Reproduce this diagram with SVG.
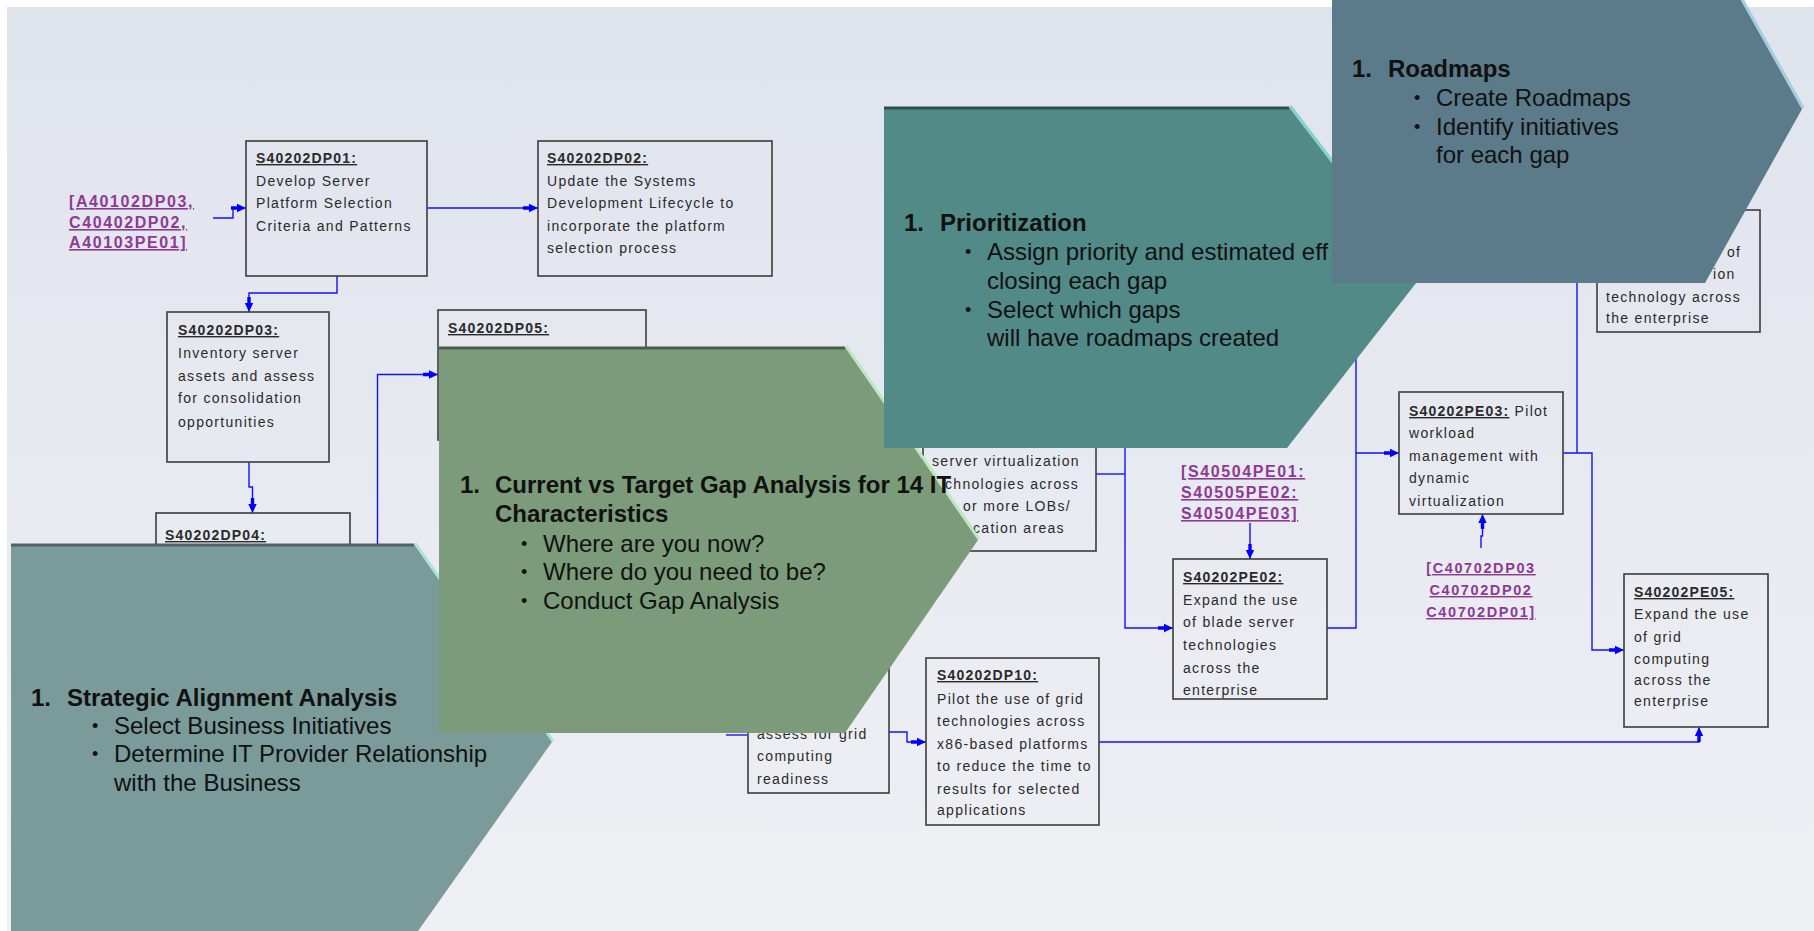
<svg xmlns="http://www.w3.org/2000/svg" width="1814" height="931" viewBox="0 0 1814 931">
<defs>
<linearGradient id="bg" x1="0" y1="0" x2="0" y2="1">
<stop offset="0" stop-color="#dfe3ec"/>
<stop offset="1" stop-color="#eff0f4"/>
</linearGradient>
<marker id="ah" markerUnits="userSpaceOnUse" markerWidth="16" markerHeight="10" refX="15" refY="5" orient="auto">
<path d="M0,3.3 H6 V0.8 L15,5 L6,9.2 V6.7 H0 z" fill="#0000ff"/>
</marker>
<style>
.bx{fill:none;stroke:#3c3c3c;stroke-width:1.6}
.t{font-family:"Liberation Sans",Arial,sans-serif;font-size:14px;letter-spacing:1.3px;fill:#2a2a2a}
.h{font-weight:bold;text-decoration:underline;letter-spacing:1.2px}
.lk{font-family:"Liberation Sans",Arial,sans-serif;font-size:16px;font-weight:bold;letter-spacing:1.6px;fill:#8e3a93;text-decoration:underline}
.lks{font-size:14.5px}
.big{font-family:"Liberation Sans",Arial,sans-serif;font-size:24px;fill:#111}
.bd{font-weight:bold}
.bul{font-family:"Liberation Sans",Arial,sans-serif;font-size:18px;fill:#111}
.cn{fill:none;stroke:#1212ff;stroke-width:1.4}
.cna{fill:none;stroke:#1212ff;stroke-width:1.4;marker-end:url(#ah)}
</style>
</defs>

<rect x="0" y="0" width="1814" height="931" fill="#ffffff"/>
<rect x="7" y="7" width="1807" height="924" fill="url(#bg)"/>

<g id="connectors">
<path class="cna" d="M213,218 H233 V208 H246"/>
<path class="cna" d="M427,208 H538"/>
<path class="cna" d="M337,276 V293 H249 V312"/>
<path class="cna" d="M249,462 V487 H252.5 V513"/>
<path class="cna" d="M377.5,570 V374.5 H438"/>
<path class="cn" d="M530,757 H538 V749"/>
<path class="cn" d="M726,735 H747"/>
<path class="cna" d="M889,732 H907 V742 H926"/>
<path class="cna" d="M1099,742 H1699 V727"/>
<path class="cn" d="M1096,474 H1125"/>
<path class="cna" d="M1125,420 V628 H1173"/>
<path class="cna" d="M1250,523 V559"/>
<path class="cna" d="M1327,628 H1356 V453 H1399"/>
<path class="cn" d="M1356,453 V340"/>
<path class="cna" d="M1481,548 V536 H1482.5 V514"/>
<path class="cna" d="M1563,453 H1592 V650 H1624"/>
<path class="cn" d="M1577,453 V260"/>
</g>

<g id="labelA">
<text class="lk" x="69" y="207">[A40102DP03,</text>
<text class="lk" x="69" y="228">C40402DP02,</text>
<text class="lk" x="69" y="248">A40103PE01]</text>
</g>

<g id="DP01">
<rect class="bx" x="246" y="141" width="181" height="135"/>
<text class="t h" x="256" y="163">S40202DP01:</text>
<text class="t" x="256" y="186">Develop Server</text>
<text class="t" x="256" y="208">Platform Selection</text>
<text class="t" x="256" y="231">Criteria and Patterns</text>
</g>

<g id="DP02">
<rect class="bx" x="538" y="141" width="234" height="135"/>
<text class="t h" x="547" y="163">S40202DP02:</text>
<text class="t" x="547" y="186">Update the Systems</text>
<text class="t" x="547" y="208">Development Lifecycle to</text>
<text class="t" x="547" y="231">incorporate the platform</text>
<text class="t" x="547" y="253">selection process</text>
</g>

<g id="DP03">
<rect class="bx" x="167" y="312" width="162" height="150"/>
<text class="t h" x="178" y="335">S40202DP03:</text>
<text class="t" x="178" y="358">Inventory server</text>
<text class="t" x="178" y="381">assets and assess</text>
<text class="t" x="178" y="403">for consolidation</text>
<text class="t" x="178" y="427">opportunities</text>
</g>

<g id="DP04">
<rect class="bx" x="156" y="513" width="194" height="120"/>
<text class="t h" x="165" y="540">S40202DP04:</text>
</g>

<g id="DP05">
<rect class="bx" x="438" y="310" width="208" height="130"/>
<text class="t h" x="448" y="333">S40202DP05:</text>
</g>

<g id="DP06">
<rect class="bx" x="923" y="400" width="173" height="151"/>
<text class="t" x="932" y="466">server virtualization</text>
<text class="t" x="945" y="489">chnologies across</text>
<text class="t" x="963" y="511">or more LOBs/</text>
<text class="t" x="973" y="533">cation areas</text>
</g>

<g id="DP09">
<rect class="bx" x="748" y="650" width="141" height="143"/>
<text class="t" x="757" y="739">assess for grid</text>
<text class="t" x="757" y="761">computing</text>
<text class="t" x="757" y="784">readiness</text>
</g>

<g id="DP10">
<rect class="bx" x="926" y="658" width="173" height="167"/>
<text class="t h" x="937" y="680">S40202DP10:</text>
<text class="t" x="937" y="704">Pilot the use of grid</text>
<text class="t" x="937" y="726">technologies across</text>
<text class="t" x="937" y="749">x86-based platforms</text>
<text class="t" x="937" y="771">to reduce the time to</text>
<text class="t" x="937" y="794">results for selected</text>
<text class="t" x="937" y="815">applications</text>
</g>

<g id="labelS">
<text class="lk" x="1181" y="477">[S40504PE01:</text>
<text class="lk" x="1181" y="498">S40505PE02:</text>
<text class="lk" x="1181" y="519">S40504PE03]</text>
</g>

<g id="PE02">
<rect class="bx" x="1173" y="559" width="154" height="140"/>
<text class="t h" x="1183" y="582">S40202PE02:</text>
<text class="t" x="1183" y="605">Expand the use</text>
<text class="t" x="1183" y="627">of blade server</text>
<text class="t" x="1183" y="650">technologies</text>
<text class="t" x="1183" y="673">across the</text>
<text class="t" x="1183" y="695">enterprise</text>
</g>

<g id="PE03">
<rect class="bx" x="1399" y="392" width="164" height="122"/>
<text class="t" x="1409" y="416"><tspan class="h">S40202PE03:</tspan> Pilot</text>
<text class="t" x="1409" y="438">workload</text>
<text class="t" x="1409" y="461">management with</text>
<text class="t" x="1409" y="483">dynamic</text>
<text class="t" x="1409" y="506">virtualization</text>
</g>

<g id="labelC">
<text class="lk lks" x="1481" y="573" text-anchor="middle">[C40702DP03</text>
<text class="lk lks" x="1481" y="595" text-anchor="middle">C40702DP02</text>
<text class="lk lks" x="1481" y="617" text-anchor="middle">C40702DP01]</text>
</g>

<g id="PE04">
<rect class="bx" x="1597" y="210" width="163" height="122"/>
<text class="t" x="1727" y="257">of</text>
<text class="t" x="1713" y="279">ion</text>
<text class="t" x="1606" y="302">technology across</text>
<text class="t" x="1606" y="323">the enterprise</text>
</g>

<g id="PE05">
<rect class="bx" x="1624" y="574" width="144" height="153"/>
<text class="t h" x="1634" y="597">S40202PE05:</text>
<text class="t" x="1634" y="619">Expand the use</text>
<text class="t" x="1634" y="642">of grid</text>
<text class="t" x="1634" y="664">computing</text>
<text class="t" x="1634" y="685">across the</text>
<text class="t" x="1634" y="706">enterprise</text>
</g>

<g id="strategic">
<polygon points="11,544 414,544 552,742 418,931 11,931" fill="#7a9b99"/>
<line x1="415" y1="543" x2="553" y2="741" stroke="#a9e2de" stroke-width="3"/>
<line x1="11" y1="545" x2="414" y2="545" stroke="#4e6462" stroke-width="3"/>
<text class="big bd" x="31" y="706">1.</text>
<text class="big bd" x="67" y="706">Strategic Alignment Analysis</text>
<text class="bul" x="92" y="732">•</text>
<text class="big" x="114" y="734">Select Business Initiatives</text>
<text class="bul" x="92" y="760">•</text>
<text class="big" x="114" y="762">Determine IT Provider Relationship</text>
<text class="big" x="114" y="791">with the Business</text>
</g>

<g id="gap">
<polygon points="439,347 845,347 978,540 845,733 439,733" fill="#7c9b7a"/>
<line x1="846" y1="346" x2="979" y2="539" stroke="#bde8bd" stroke-width="3"/>
<line x1="439" y1="348" x2="845" y2="348" stroke="#4c5c4c" stroke-width="3"/>
<text class="big bd" x="460" y="493">1.</text>
<text class="big bd" x="495" y="493">Current vs Target Gap Analysis for 14 IT</text>
<text class="big bd" x="495" y="522">Characteristics</text>
<text class="bul" x="521" y="550">•</text>
<text class="big" x="543" y="552">Where are you now?</text>
<text class="bul" x="521" y="578">•</text>
<text class="big" x="543" y="580">Where do you need to be?</text>
<text class="bul" x="521" y="607">•</text>
<text class="big" x="543" y="609">Conduct Gap Analysis</text>
</g>

<g id="prioritization">
<polygon points="884,107 1289,107 1420,278 1287,448 884,448" fill="#528a87"/>
<line x1="1290" y1="106" x2="1421" y2="277" stroke="#86d2ce" stroke-width="3"/>
<line x1="884" y1="108" x2="1289" y2="108" stroke="#2f4f4d" stroke-width="3"/>
<text class="big bd" x="904" y="231">1.</text>
<text class="big bd" x="940" y="231">Prioritization</text>
<text class="bul" x="965" y="258">•</text>
<text class="big" x="987" y="260">Assign priority and estimated eff</text>
<text class="big" x="987" y="289">closing each gap</text>
<text class="bul" x="965" y="316">•</text>
<text class="big" x="987" y="318">Select which gaps</text>
<text class="big" x="987" y="346">will have roadmaps created</text>
</g>

<g id="roadmaps">
<polygon points="1332,-64 1705,-64 1802,109 1705,283 1332,283" fill="#5b7a8a"/>
<line x1="1706" y1="-65" x2="1803" y2="108" stroke="#a3cde0" stroke-width="3"/>
<text class="big bd" x="1352" y="77">1.</text>
<text class="big bd" x="1388" y="77">Roadmaps</text>
<text class="bul" x="1414" y="104">•</text>
<text class="big" x="1436" y="106">Create Roadmaps</text>
<text class="bul" x="1414" y="133">•</text>
<text class="big" x="1436" y="135">Identify initiatives</text>
<text class="big" x="1436" y="163">for each gap</text>
</g>
</svg>
